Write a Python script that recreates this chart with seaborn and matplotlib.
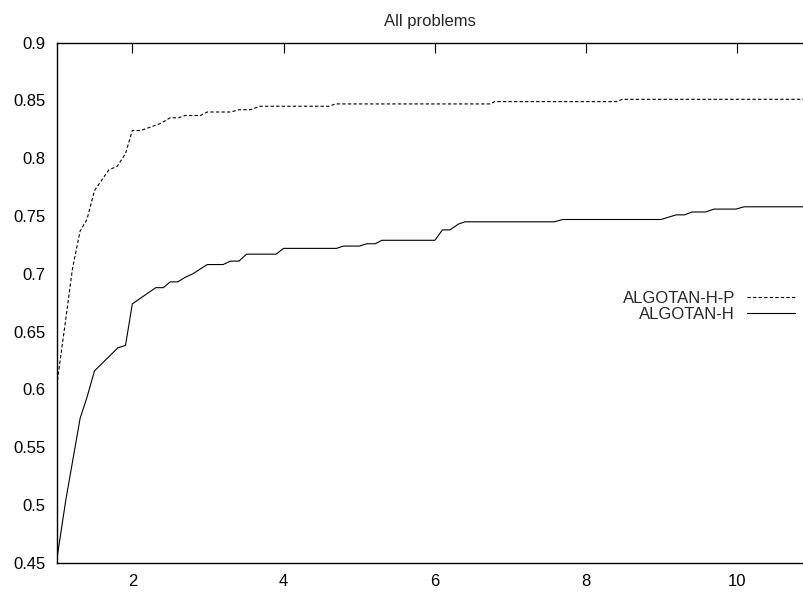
import numpy as np
import pandas as pd
import matplotlib
matplotlib.use("Agg")
import matplotlib.pyplot as plt
import seaborn as sns

# performance profile values
hp_x = [1.0, 1.10, 1.21, 1.31, 1.40, 1.50, 1.69, 1.80, 1.91, 2.0, 2.11, 2.37, 2.50, 2.61,
        2.70, 2.90, 2.99, 3.30, 3.41, 3.56, 3.69, 4.61, 4.68, 6.73, 6.79, 8.40, 8.48, 10.88]
hp_y = [0.603, 0.651, 0.705, 0.737, 0.747, 0.772, 0.790, 0.793, 0.804, 0.824, 0.824, 0.830,
        0.835, 0.835, 0.837, 0.837, 0.840, 0.840, 0.842, 0.842, 0.845, 0.845, 0.847, 0.847,
        0.849, 0.849, 0.851, 0.851]

h_x = [1.0, 1.12, 1.31, 1.40, 1.50, 1.81, 1.91, 2.0, 2.31, 2.41, 2.50, 2.60, 2.70, 2.80,
       2.99, 3.20, 3.30, 3.41, 3.51, 3.90, 4.0, 4.70, 4.79, 5.0, 5.10, 5.21, 5.30, 6.0,
       6.10, 6.20, 6.31, 6.40, 7.58, 7.69, 8.99, 9.19, 9.30, 9.40, 9.58, 9.69, 9.98,
       10.09, 10.88]
h_y = [0.452, 0.504, 0.575, 0.593, 0.616, 0.636, 0.638, 0.674, 0.688, 0.688, 0.693, 0.693,
       0.697, 0.700, 0.708, 0.708, 0.711, 0.711, 0.717, 0.717, 0.722, 0.722, 0.724, 0.724,
       0.726, 0.726, 0.729, 0.729, 0.738, 0.738, 0.743, 0.745, 0.745, 0.747, 0.747, 0.751,
       0.751, 0.7535, 0.7535, 0.756, 0.756, 0.758, 0.758]

x_ticks = [2, 4, 6, 8, 10]
y_ticks = [0.45, 0.5, 0.55, 0.6, 0.65, 0.7, 0.75, 0.8, 0.85, 0.9]
y_tick_labels = ["0.45", "0.5", "0.55", "0.6", "0.65", "0.7", "0.75", "0.8", "0.85", "0.9"]

sns.set_style("white")
plt.rcParams["font.family"] = ["Liberation Sans", "DejaVu Sans"]
plt.rcParams["font.size"] = 12

fig = plt.figure(figsize=(8.04, 5.92), dpi=100)
ax = fig.add_axes([0.0705, 0.0495, 0.9295, 0.8784])

sns.lineplot(x=hp_x, y=hp_y, ax=ax, color="black", linewidth=0.8, sort=False,
             estimator=None, linestyle=(0, (3, 2)), label="ALGOTAN-H-P")
sns.lineplot(x=h_x, y=h_y, ax=ax, color="black", linewidth=0.8, sort=False,
             estimator=None, linestyle="-", label="ALGOTAN-H")

ax.set_xlim(1, 10.88)
ax.set_ylim(0.45, 0.9)
ax.set_xticks(x_ticks)
ax.set_xticklabels([str(t) for t in x_ticks])
ax.set_yticks(y_ticks)
ax.set_yticklabels(y_tick_labels)
ax.tick_params(direction="in", length=7, width=0.8, top=True, pad=8,
               labelsize=12, colors="black")
ax.tick_params(axis="y", right=False)
for side in ["left", "bottom", "top"]:
    ax.spines[side].set_color("black")
    ax.spines[side].set_linewidth(1.0)
ax.spines["right"].set_visible(False)

ax.set_title("All problems", fontsize=12, pad=12)

leg = ax.legend(loc="center right", bbox_to_anchor=(0.988, 0.493), frameon=False,
                markerfirst=False, handlelength=2.9, handletextpad=0.7,
                labelspacing=0.05, fontsize=12, borderpad=0, borderaxespad=0)
# right-align the labels like gnuplot does
for col in leg._legend_handle_box.get_children():
    col.align = "right"

fig.savefig("out.png", dpi=100)
